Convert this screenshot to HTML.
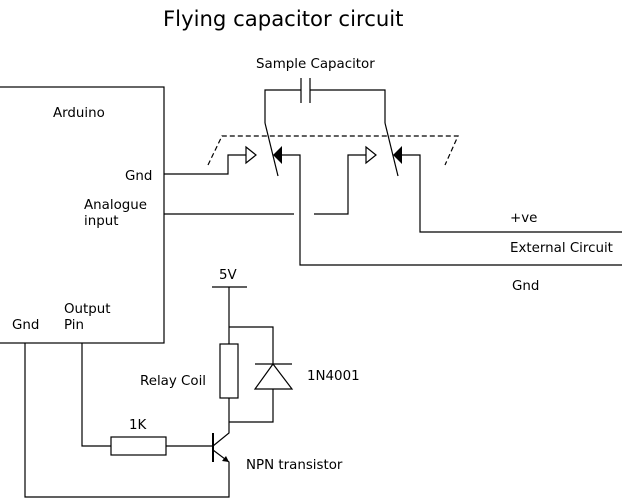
<!DOCTYPE html>
<html><head><style>
body{margin:0;background:#fff}
svg{display:block}
text{font-family:"DejaVu Sans","Liberation Sans",sans-serif;font-size:13.4px;fill:#000}
</style></head><body>
<svg width="622" height="500" viewBox="0 0 622 500" xmlns="http://www.w3.org/2000/svg">
<g fill="none" stroke="#000" stroke-width="1.2">
<rect x="-2" y="87" width="166" height="256"/>
<polyline points="265,123 265,90 301,90"/>
<polyline points="310,90 385,90 385,123"/>
<line x1="301" y1="78" x2="301" y2="103"/>
<line x1="310" y1="78" x2="310" y2="103"/>
<line x1="265" y1="123" x2="278" y2="176"/>
<line x1="385" y1="123" x2="398" y2="176"/>
<polyline points="208,165 222,136 458,136 445,165" stroke-dasharray="5,3"/>
<polyline points="164,174 228,174 228,155 246,155"/>
<polygon points="246,147 256,155 246,163"/>
<polyline points="282,155 300,155 300,265 622,265"/>
<line x1="164" y1="214" x2="294" y2="214"/>
<polyline points="314,214 348,214 348,155 366,155"/>
<polygon points="366,147 376,155 366,163"/>
<polyline points="402,155 420,155 420,232 622,232"/>
<line x1="212" y1="287" x2="247" y2="287"/>
<polyline points="229,287 229,344"/>
<polyline points="229,327 273,327 273,364"/>
<rect x="220" y="344" width="18" height="54"/>
<line x1="255" y1="364" x2="292" y2="364"/>
<polygon points="273,364 255,389 292,389"/>
<polyline points="273,389 273,422 229,422"/>
<polyline points="229,398 229,433 213,446"/>
<line x1="213" y1="433" x2="213" y2="462" stroke-width="2"/>
<polyline points="213,450 229,462 229,497 25,497 25,343"/>
<polyline points="82,343 82,446 111,446"/>
<rect x="111" y="437" width="55" height="18"/>
<line x1="166" y1="446" x2="213" y2="446"/>
</g>
<polygon points="273,155 282,146 282,164" fill="#000"/>
<polygon points="393,155 402,146 402,164" fill="#000"/>
<polygon points="229,462 222,461 226,456" fill="#000"/>
<text x="163" y="26" style="font-size:21.2px">Flying capacitor circuit</text>
<text x="256" y="68">Sample Capacitor</text>
<text x="53" y="117">Arduino</text>
<text x="125" y="180">Gnd</text>
<text x="84" y="209">Analogue</text>
<text x="84" y="225">input</text>
<text x="510" y="222">+ve</text>
<text x="510" y="252">External Circuit</text>
<text x="512" y="290">Gnd</text>
<text x="219" y="279">5V</text>
<text x="64" y="313">Output</text>
<text x="64" y="329">Pin</text>
<text x="12" y="329">Gnd</text>
<text x="140" y="385">Relay Coil</text>
<text x="307" y="380">1N4001</text>
<text x="129" y="429">1K</text>
<text x="246" y="469">NPN transistor</text>
</svg>
</body></html>
